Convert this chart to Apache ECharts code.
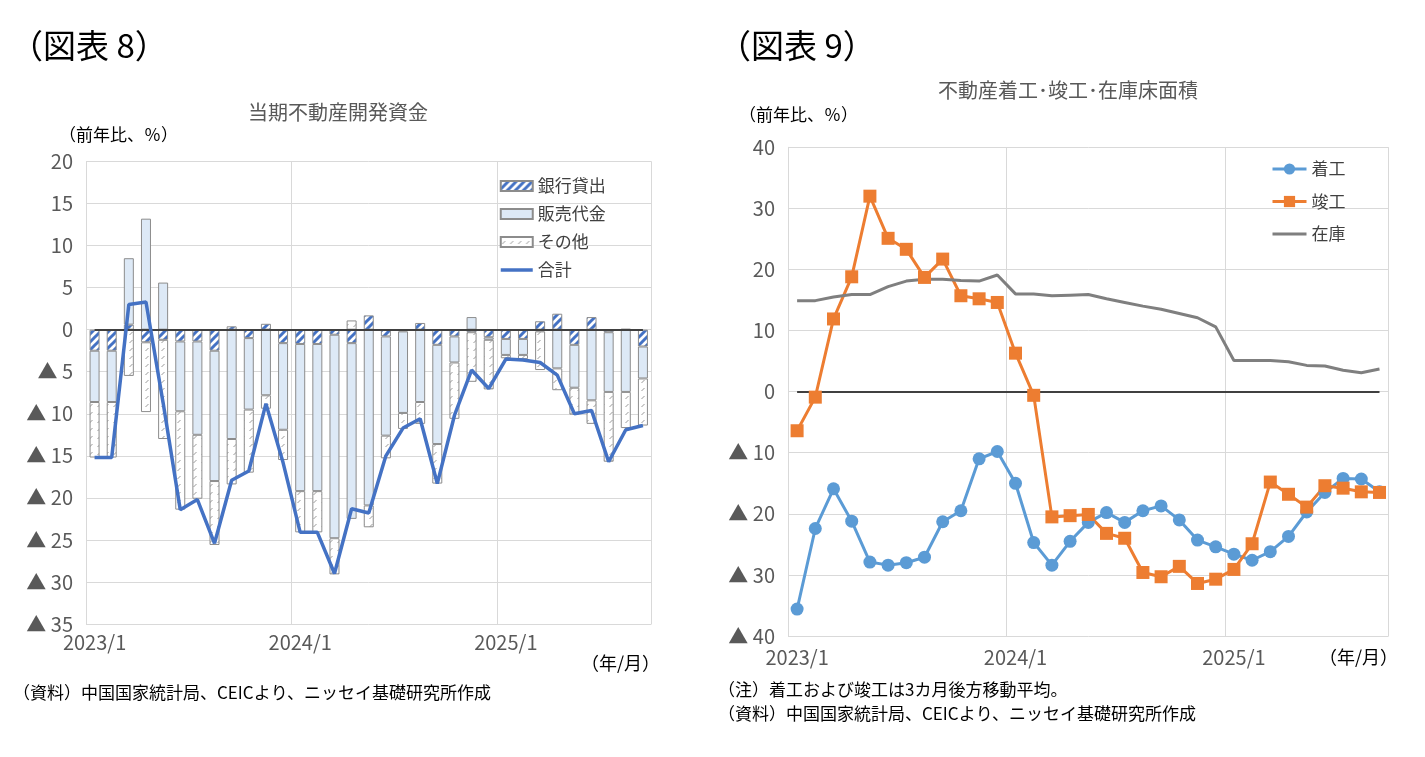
<!DOCTYPE html>
<html>
<head>
<meta charset="utf-8">
<title>図表8・図表9</title>
<script src="https://cdn.jsdelivr.net/npm/echarts@6/dist/echarts.min.js"></script>
<style>
html, body { margin: 0; padding: 0; background: #fff; }
#main { width: 1425px; height: 757px; }
</style>
</head>
<body>
<div id="main"></div>
<script>
/* ============================= データ ================================ */
var months = ['2023/1','2023/2','2023/3','2023/4','2023/5','2023/6','2023/7','2023/8','2023/9','2023/10','2023/11','2023/12',
	'2024/1','2024/2','2024/3','2024/4','2024/5','2024/6','2024/7','2024/8','2024/9','2024/10','2024/11','2024/12',
	'2025/1','2025/2','2025/3','2025/4','2025/5','2025/6','2025/7','2025/8','2025/9'];

// 図表8 当期不動産開発資金 (前年比、%)
var bankLoan     = [-2.5,-2.5,0.6,-1.5,-1.2,-1.4,-1.4,-2.5,0.4,-1.0,0.7,-1.6,-1.7,-1.7,-0.6,-1.6,1.7,-0.8,-0.2,0.8,-1.8,-0.8,-0.3,-0.9,-1.1,-1.1,1.0,1.9,-1.8,1.5,-0.3,0.1,-2.0];
var salesRevenue = [-6.1,-6.1,7.9,13.2,5.6,-8.3,-11.1,-15.5,-13.0,-8.5,-7.8,-10.3,-17.5,-17.5,-24.2,-20.9,-20.9,-11.8,-9.7,-8.6,-11.8,-3.1,1.5,-0.3,-1.9,-1.9,-0.2,-4.6,-5.1,-8.4,-7.1,-7.4,-3.8];
var otherFunds   = [-6.6,-6.6,-5.5,-8.3,-11.8,-11.7,-7.6,-7.6,-5.4,-7.5,-1.6,-3.6,-4.9,-4.9,-4.3,1.1,-2.6,-2.7,-1.9,-2.6,-4.7,-6.7,-5.9,-5.9,-0.4,-0.5,-4.6,-2.6,-3.2,-2.8,-8.3,-4.3,-5.6];
var fundsTotal   = [-15.2,-15.2,3.0,3.3,-8.7,-21.4,-20.2,-25.4,-17.9,-16.8,-8.8,-15.8,-24.1,-24.1,-29.0,-21.3,-21.8,-15.0,-11.7,-10.6,-18.3,-10.2,-4.8,-7.0,-3.5,-3.6,-3.9,-5.4,-10.0,-9.6,-15.7,-11.9,-11.4];

// 図表9 不動産着工・竣工・在庫床面積 (前年比、%)
var starts      = [-35.6,-22.4,-15.9,-21.2,-27.9,-28.4,-28.0,-27.1,-21.3,-19.5,-11.0,-9.8,-15.0,-24.7,-28.4,-24.5,-21.4,-19.8,-21.4,-19.5,-18.7,-21.0,-24.3,-25.4,-26.6,-27.6,-26.2,-23.7,-19.7,-16.5,-14.2,-14.3,-16.4];
var completions = [-6.4,-0.9,11.9,18.8,32.0,25.1,23.3,18.7,21.7,15.7,15.2,14.6,6.3,-0.6,-20.5,-20.3,-20.1,-23.2,-24.0,-29.6,-30.3,-28.6,-31.4,-30.7,-29.1,-24.9,-14.8,-16.8,-18.9,-15.4,-15.8,-16.4,-16.5];
var inventory   = [14.9,14.9,15.5,15.9,15.9,17.2,18.1,18.4,18.4,18.2,18.1,19.1,16.0,16.0,15.7,15.8,15.9,15.2,14.6,14.0,13.5,12.8,12.1,10.6,5.1,5.1,5.1,4.9,4.3,4.2,3.5,3.1,3.7];

/* ============================= 書式 ================================ */
var FONT = '"Noto Sans CJK JP", "Noto Sans", sans-serif';
var GRID_COLOR = '#d9d9d9';
var LABEL_COLOR = '#595959';
var CLEAR = 'rgba(0,0,0,0)';

// マイナスは ▲ 表記
function triangleFormat(v) {
	if (v < 0) return '▲ ' + (-v);
	return '' + v;
}

// 塗りつぶしパターン (canvas)
function makePattern(w, h, draw) {
	var c = document.createElement('canvas');
	c.width = w;
	c.height = h;
	var ctx = c.getContext('2d');
	ctx.fillStyle = '#ffffff';
	ctx.fillRect(0, 0, w, h);
	draw(ctx, w, h);
	return { image: c, repeat: 'repeat' };
}

var bankFill = makePattern(8, 8, function(ctx, w, h) {
	ctx.strokeStyle = '#4472c4';
	ctx.lineWidth = 3;
	ctx.beginPath();
	ctx.moveTo(-2, h + 2); ctx.lineTo(w + 2, -2);
	ctx.moveTo(-2, 2); ctx.lineTo(2, -2);
	ctx.moveTo(w - 2, h + 2); ctx.lineTo(w + 2, h - 2);
	ctx.stroke();
});

var otherFill = makePattern(8, 8, function(ctx, w, h) {
	ctx.strokeStyle = '#9a9a9a';
	ctx.lineWidth = 1;
	ctx.beginPath();
	ctx.moveTo(1.5, 7); ctx.lineTo(4.5, 4);
	ctx.stroke();
});

function zeroLine(z) {
	return {
		silent: true,
		symbol: ['none', 'none'],
		label: { show: false },
		z: z,
		lineStyle: { color: '#404040', width: 2, type: 'solid' },
		data: [[{ coord: [months[0], 0] }, { coord: [months[months.length - 1], 0] }]]
	};
}

function catAxis(gridIndex, margin) {
	return {
		type: 'category',
		gridIndex: gridIndex,
		data: months,
		boundaryGap: true,
		axisLine: { show: false },
		axisTick: { show: false },
		axisLabel: { interval: 11, margin: margin, color: LABEL_COLOR, fontSize: 20, fontFamily: FONT },
		splitLine: { show: true, interval: 11, lineStyle: { color: GRID_COLOR, width: 1 } }
	};
}

function valAxis(gridIndex, min, max, interval) {
	return {
		type: 'value',
		gridIndex: gridIndex,
		min: min,
		max: max,
		interval: interval,
		axisLine: { show: true, lineStyle: { color: GRID_COLOR } },
		axisTick: { show: false },
		axisLabel: { formatter: triangleFormat, margin: 13, color: LABEL_COLOR, fontSize: 20, fontFamily: FONT },
		splitLine: { show: true, lineStyle: { color: GRID_COLOR, width: 1 } }
	};
}

function text(x, y, str, size, color, align) {
	return {
		type: 'text',
		x: x,
		y: y,
		silent: true,
		style: {
			text: str,
			fontSize: size,
			fontFamily: FONT,
			fill: color,
			align: align || 'left',
			verticalAlign: 'middle'
		}
	};
}

// 線だけの凡例 (記号を透明に)
function lineOnlyLegend(name, width) {
	return {
		name: name,
		itemStyle: { color: CLEAR, borderColor: CLEAR, borderWidth: 0 },
		lineStyle: { width: width }
	};
}

var option = {
	animation: false,
	backgroundColor: '#ffffff',
	grid: [
		{ left: 86, top: 161.5, width: 565.5, height: 462.5 },
		{ left: 788, top: 147.3, width: 600.6, height: 488.7 }
	],
	xAxis: [catAxis(0, 8), catAxis(1, 11)],
	yAxis: [valAxis(0, -35, 20, 5), valAxis(1, -40, 40, 10)],
	legend: [
		{
			orient: 'vertical', left: 494, top: 171,
			itemWidth: 32, itemHeight: 10, itemGap: 8,
			textStyle: { fontSize: 17, color: '#404040', fontFamily: FONT, lineHeight: 20 },
			data: [
				{ name: '銀行貸出', icon: 'rect' },
				{ name: '販売代金', icon: 'rect' },
				{ name: 'その他', icon: 'rect' },
				lineOnlyLegend('合計', 3.5)
			]
		},
		{
			orient: 'vertical', left: 1266, top: 154,
			itemWidth: 34, itemHeight: 14, itemGap: 12.5,
			textStyle: { fontSize: 17, color: '#404040', fontFamily: FONT, lineHeight: 20 },
			data: [
				{ name: '着工', lineStyle: { width: 3 } },
				{ name: '竣工', lineStyle: { width: 3 } },
				lineOnlyLegend('在庫', 3)
			]
		}
	],
	graphic: [
		text(10, 45, '（図表 8）', 33, '#000000'),
		text(718, 45, '（図表 9）', 33, '#000000'),
		text(338, 112, '当期不動産開発資金', 20, LABEL_COLOR, 'center'),
		text(1068, 90, '不動産着工･竣工･在庫床面積', 20, LABEL_COLOR, 'center'),
		text(59, 135, '（前年比、％）', 17, '#000000'),
		text(739, 115, '（前年比、％）', 17, '#000000'),
		text(660, 663, '（年/月）', 18, '#000000', 'right'),
		text(1398, 657, '（年/月）', 18, '#000000', 'right'),
		text(13, 693, '（資料）中国国家統計局、CEICより、ニッセイ基礎研究所作成', 17, '#000000'),
		text(718, 690, '（注）着工および竣工は3カ月後方移動平均。', 17, '#000000'),
		text(718, 714, '（資料）中国国家統計局、CEICより、ニッセイ基礎研究所作成', 17, '#000000')
	],
	series: [
		{
			name: '銀行貸出', type: 'bar', stack: 'funds', xAxisIndex: 0, yAxisIndex: 0,
			barWidth: 10, data: bankLoan,
			itemStyle: { color: bankFill, borderColor: '#8c8c8c', borderWidth: 1 },
			markLine: zeroLine(5)
		},
		{
			name: '販売代金', type: 'bar', stack: 'funds', xAxisIndex: 0, yAxisIndex: 0,
			barWidth: 10, data: salesRevenue,
			itemStyle: { color: '#dde9f6', borderColor: '#8c8c8c', borderWidth: 1 }
		},
		{
			name: 'その他', type: 'bar', stack: 'funds', xAxisIndex: 0, yAxisIndex: 0,
			barWidth: 10, data: otherFunds,
			itemStyle: { color: otherFill, borderColor: '#8c8c8c', borderWidth: 1 }
		},
		{
			name: '合計', type: 'line', xAxisIndex: 0, yAxisIndex: 0, z: 10,
			data: fundsTotal, symbol: 'none',
			lineStyle: { color: '#4472c4', width: 3.5 },
			itemStyle: { color: '#4472c4' }
		},
		{
			name: '着工', type: 'line', xAxisIndex: 1, yAxisIndex: 1, z: 10,
			data: starts, symbol: 'circle', symbolSize: 13,
			showSymbol: true, showAllSymbol: true,
			lineStyle: { color: '#5b9bd5', width: 3 },
			itemStyle: { color: '#5b9bd5' },
			markLine: zeroLine(5)
		},
		{
			name: '竣工', type: 'line', xAxisIndex: 1, yAxisIndex: 1, z: 10,
			data: completions, symbol: 'rect', symbolSize: 13,
			showSymbol: true, showAllSymbol: true,
			lineStyle: { color: '#ed7d31', width: 3 },
			itemStyle: { color: '#ed7d31' }
		},
		{
			name: '在庫', type: 'line', xAxisIndex: 1, yAxisIndex: 1, z: 10,
			data: inventory, symbol: 'none',
			lineStyle: { color: '#7f7f7f', width: 3 },
			itemStyle: { color: '#7f7f7f' }
		}
	]
};

var chart = echarts.init(document.getElementById('main'));
chart.setOption(option);
</script>
</body>
</html>
